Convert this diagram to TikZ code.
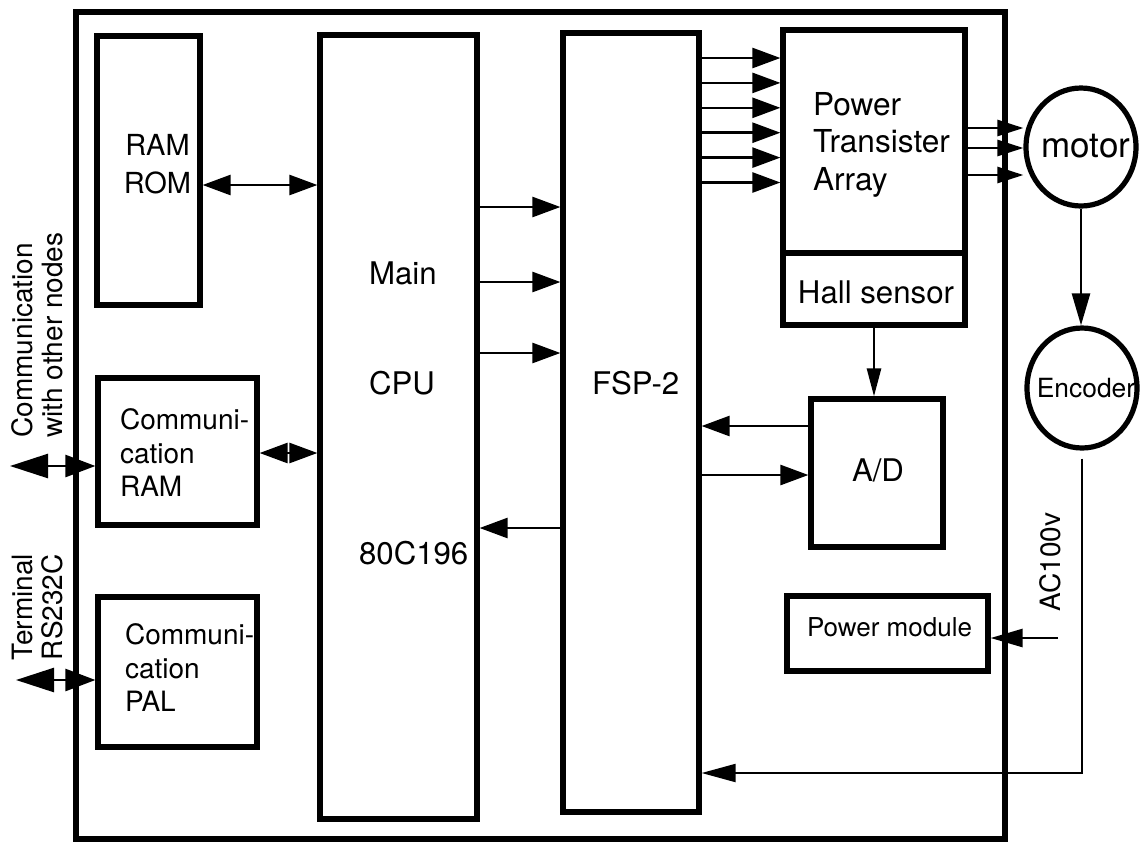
\documentclass[tikz,border=0pt]{standalone}
\usepackage{fontspec}
\setmainfont{TeX Gyre Heros}
\usetikzlibrary{arrows.meta,shapes.geometric}

\begin{document}
\begin{tikzpicture}[x=0.5pt,y=-0.5pt,
		blk/.style={draw,line width=2.6pt,inner sep=0pt},
		rnd/.style={draw,ellipse,line width=2.6pt,inner sep=0pt},
		sig/.style={line width=1.3pt,-{Triangle[length=14pt,width=10pt]}},
		bus/.style={line width=1.3pt,{Triangle[length=14pt,width=10pt]}-{Triangle[length=14pt,width=10pt]}},
		ext/.style={line width=1.3pt,{Triangle[length=19pt,width=12pt]}-{Triangle[length=15pt,width=11pt]}},
		big/.style={font=\fontsize{15.6}{19}\selectfont},
		mid/.style={font=\fontsize{14}{16.75}\selectfont,align=left}]
	
	\useasboundingbox (0,0) rectangle (1142,842);
	
	% Marco exterior
	\draw[line width=2.6pt] (76,12) rectangle (1005,839);
	
	% Bloques
	\node[blk,minimum width=51.5pt,minimum height=134.5pt] (ram) at (148.5,170.5) {};
	\node[blk,minimum width=78.5pt,minimum height=392pt] (cpu) at (398.5,427) {};
	\node[blk,minimum width=68pt,minimum height=389.5pt] (fsp) at (631,422.5) {};
	\node[blk,minimum width=91pt,minimum height=111.5pt] (pta) at (874,141.5) {};
	\node[blk,minimum width=91pt,minimum height=36pt] (hall) at (874,289) {};
	\node[blk,minimum width=66pt,minimum height=74pt] (ad) at (877,473) {};
	\node[blk,minimum width=100.5pt,minimum height=37.5pt] (pwr) at (887.5,633.5) {};
	\node[blk,minimum width=79.5pt,minimum height=73.5pt] (cram) at (177.5,451.5) {};
	\node[blk,minimum width=79.5pt,minimum height=75pt] (cpal) at (177.5,672) {};
	\node[rnd,minimum width=55pt,minimum height=59pt] (motor) at (1081,147) {};
	\node[rnd,minimum width=55pt,minimum height=60pt] (enc) at (1082,388) {};
	
	% Textos
	\node[font=\fontsize{14.5}{19}\selectfont,align=center] (tram) at (157.5,164) {RAM\\ROM};
	\node[big,anchor=west] (tmain) at (362,273) {Main};
	\node[big,anchor=west] (tcpu) at (362,383) {CPU};
	\node[big,anchor=west] (tchip) at (352,553) {80C196};
	\node[big,anchor=west] (tfsp) at (585,383) {FSP-2};
	\node[big,align=left,anchor=west,font=\fontsize{15.8}{18.75}\selectfont] (tpta) at (806,144.5) {Power\\Transister\\Array};
	\node[big] (thall) at (876,292) {Hall sensor};
	\node[big] (tad) at (878,470) {A/D};
	\node[font=\fontsize{13}{16}\selectfont] (tpwr) at (889.5,627) {Power module};
	\node[mid,anchor=west] (tcram) at (113,453) {Communi-\\cation\\RAM};
	\node[mid,anchor=west] (tcpal) at (118,668) {Communi-\\cation\\PAL};
	\node[font=\fontsize{17.5}{20}\selectfont] (tmotor) at (1086,146) {motor};
	\node[font=\fontsize{13.2}{16}\selectfont] (tenc) at (1086,388) {Encoder};
	\node[mid,rotate=90,font=\fontsize{14}{15}\selectfont] (tnet) at (37,335) {Communication\\with other nodes};
	\node[mid,rotate=90,font=\fontsize{14}{15}\selectfont] (tterm) at (38,607) {Terminal\\RS232C};
	\node[mid,rotate=90] (tac) at (1050,562) {AC100v};
	
	% Puntos externos
	\coordinate (netin) at (10,466);
	\coordinate (termin) at (16,680);
	\coordinate (acin) at (1058,638);
	
	% Conexiones
	\draw[bus] (ram.east |- 0,185) -- (cpu.west |- 0,185);
	\draw[bus] (cram.east |- 0,453) -- (cpu.west |- 0,453);
	\draw[ext] (netin) -- (netin -| cram.west);
	\draw[ext] (termin) -- (termin -| cpal.west);
	\foreach \y in {207,282,353}
		\draw[sig] (cpu.east |- 0,\y) -- (fsp.west |- 0,\y);
	\draw[sig] (fsp.west |- 0,528) -- (cpu.east |- 0,528);
	\foreach \i in {0,...,5}
		\draw[sig] (fsp.east |- 0,58+24.9*\i) -- (pta.west |- 0,58+24.9*\i);
	\foreach \y in {128,148,175}
		\draw[sig,-{Triangle[length=13pt,width=8pt]}] (pta.east |- 0,\y) -- (motor.west |- 0,\y);
	\draw[sig,-{Triangle[length=14pt,width=7pt]}] (hall.south) -- (hall.south |- ad.north);
	\draw[sig] (ad.west |- 0,426) -- (fsp.east |- 0,426);
	\draw[sig] (fsp.east |- 0,475) -- (ad.west |- 0,475);
	\draw[sig,-{Triangle[length=16pt,width=9pt]}] (motor.south) -- (motor.south |- enc.north);
	\draw[sig,-{Triangle[length=16pt,width=9pt]}] (acin) -- (acin -| pwr.east);
	\draw[sig,line width=1pt,-{Triangle[length=17pt,width=9pt]}] ([yshift=-4pt]enc.south) |- (fsp.east |- 0,773);
	
\end{tikzpicture}
\end{document}
